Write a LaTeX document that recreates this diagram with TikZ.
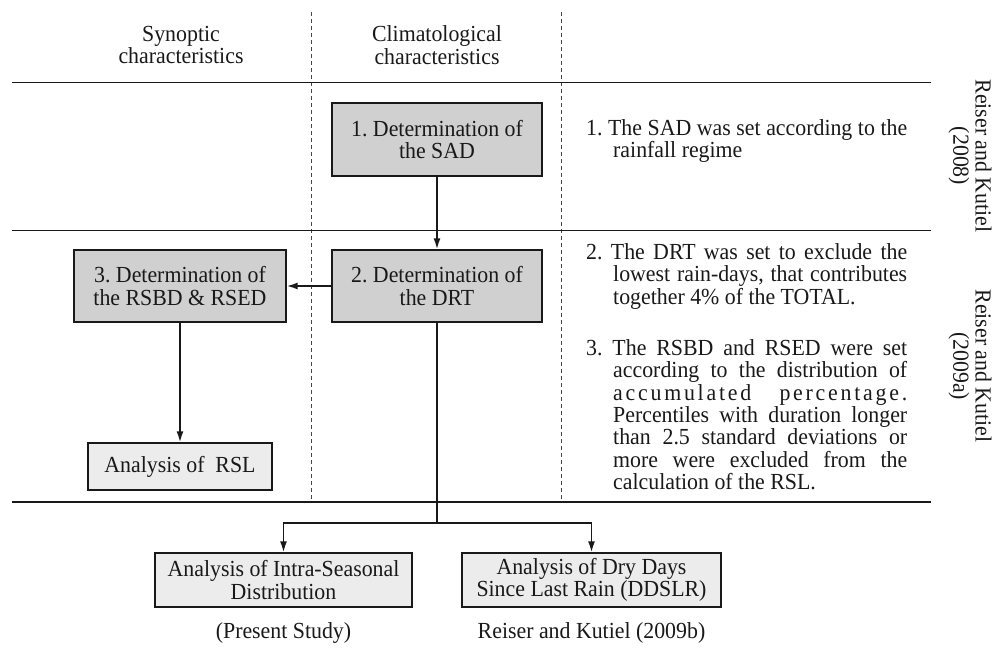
\documentclass[tikz,border=0pt]{standalone}
\usepackage{fontspec}
\setmainfont{Liberation Serif}[FakeStretch=0.95]
\usetikzlibrary{arrows.meta}
\definecolor{darkbox}{RGB}{208,208,208}
\definecolor{lightbox}{RGB}{236,236,236}
\definecolor{inkc}{RGB}{25,25,25}
\frenchspacing
\begin{document}
\begin{tikzpicture}[x=1pt,y=-1pt,
  txt/.style={font=\fontsize{23}{22.4}\selectfont\frenchspacing, inner sep=0pt, text=inkc},
  darkstep/.style={txt, draw=inkc, line width=1.2pt, fill=darkbox, align=center},
  lightstep/.style={txt, draw=inkc, line width=1.2pt, fill=lightbox, align=center},
  para/.style={txt, anchor=north west, text width=321pt, align=justify},
  rule/.style={draw=inkc, line width=1.3pt},
  thickrule/.style={draw=inkc, line width=2.4pt},
  sep/.style={draw=inkc!80, line width=0.9pt, dash pattern=on 4pt off 3pt},
  flow/.style={draw=inkc, line width=1.8pt, -{Latex[length=11pt,width=7pt]}},
  link/.style={draw=inkc, line width=1.8pt}
]
\useasboundingbox (0,0) rectangle (1002,649);

% column separators and row rules
\draw[sep] (311,12) -- (311,503);
\draw[sep] (561,12) -- (561,503);
\draw[rule] (12,82.5) -- (931,82.5);
\draw[rule] (12,230.5) -- (931,230.5);
\draw[thickrule] (12,502) -- (931,502);

% headers
\node[txt, align=center] (h1) at (181,45) {Synoptic\\characteristics};
\node[txt, align=center] (h2) at (437,45) {Climatological\\characteristics};

% boxes
\node[darkstep, minimum width=210pt, minimum height=73pt] (sad) at (437,139.5) {1. Determination of\\the SAD};
\node[darkstep, minimum width=210pt, minimum height=72pt] (drt) at (437,286) {2. Determination of\\the DRT};
\node[darkstep, minimum width=212pt, minimum height=72pt] (rsbd) at (180,286) {3. Determination of\\the RSBD \& RSED};
\node[lightstep, minimum width=184pt, minimum height=47pt] (rsl) at (180,466.5) {Analysis of\ \ RSL};
\node[lightstep, minimum width=257pt, minimum height=54pt] (intra) at (283.5,580) {Analysis of Intra-Seasonal\\Distribution};
\node[lightstep, minimum width=259pt, minimum height=54pt] (ddslr) at (591.5,580) {Analysis of Dry Days\\Since Last Rain (DDSLR)};

% connectors
\draw[flow] (sad.south) -- (drt.north);
\draw[flow] (drt.west) -- (rsbd.east);
\draw[flow] (rsbd.south) -- (rsl.north);
\coordinate (split) at (437,523);
\draw[link] (drt.south) -- (split);
\draw[flow] (split) -| (intra.north);
\draw[flow] (split) -| (ddslr.north);

% bottom labels
\node[txt] (l1) at (283.5,633) {(Present Study)};
\node[txt] (l2) at (591.5,633) {Reiser and Kutiel (2009b)};

% right column notes
\node[para] (n1) at (586,118.5) {\rule{0pt}{16.5pt}\hangindent=27pt\hangafter=1 1. The SAD was set according to the\linebreak rainfall regime\par};
\node[para] (n2) at (586,242.5) {\rule{0pt}{16.5pt}\hangindent=27pt\hangafter=1 2. The DRT was set to exclude the\linebreak lowest rain-days, that contributes\linebreak together 4\% of the TOTAL.\par};
\node[para] (n3) at (586,338.5) {\rule{0pt}{16.5pt}\hangindent=27pt\hangafter=1 3. The RSBD and RSED were set\linebreak according to the distribution of\linebreak {\addfontfeature{LetterSpace=12}accumulated percentage.}\linebreak Percentiles with duration longer\linebreak than 2.5 standard deviations or\linebreak more were excluded from the\linebreak calculation of the RSL.\par};

% references (rotated)
\node[txt, rotate=-90, align=center] (r1) at (970,156) {Reiser and Kutiel\\(2008)};
\node[txt, rotate=-90, align=center] (r2) at (970,366) {Reiser and Kutiel\\(2009a)};
\end{tikzpicture}
\end{document}
